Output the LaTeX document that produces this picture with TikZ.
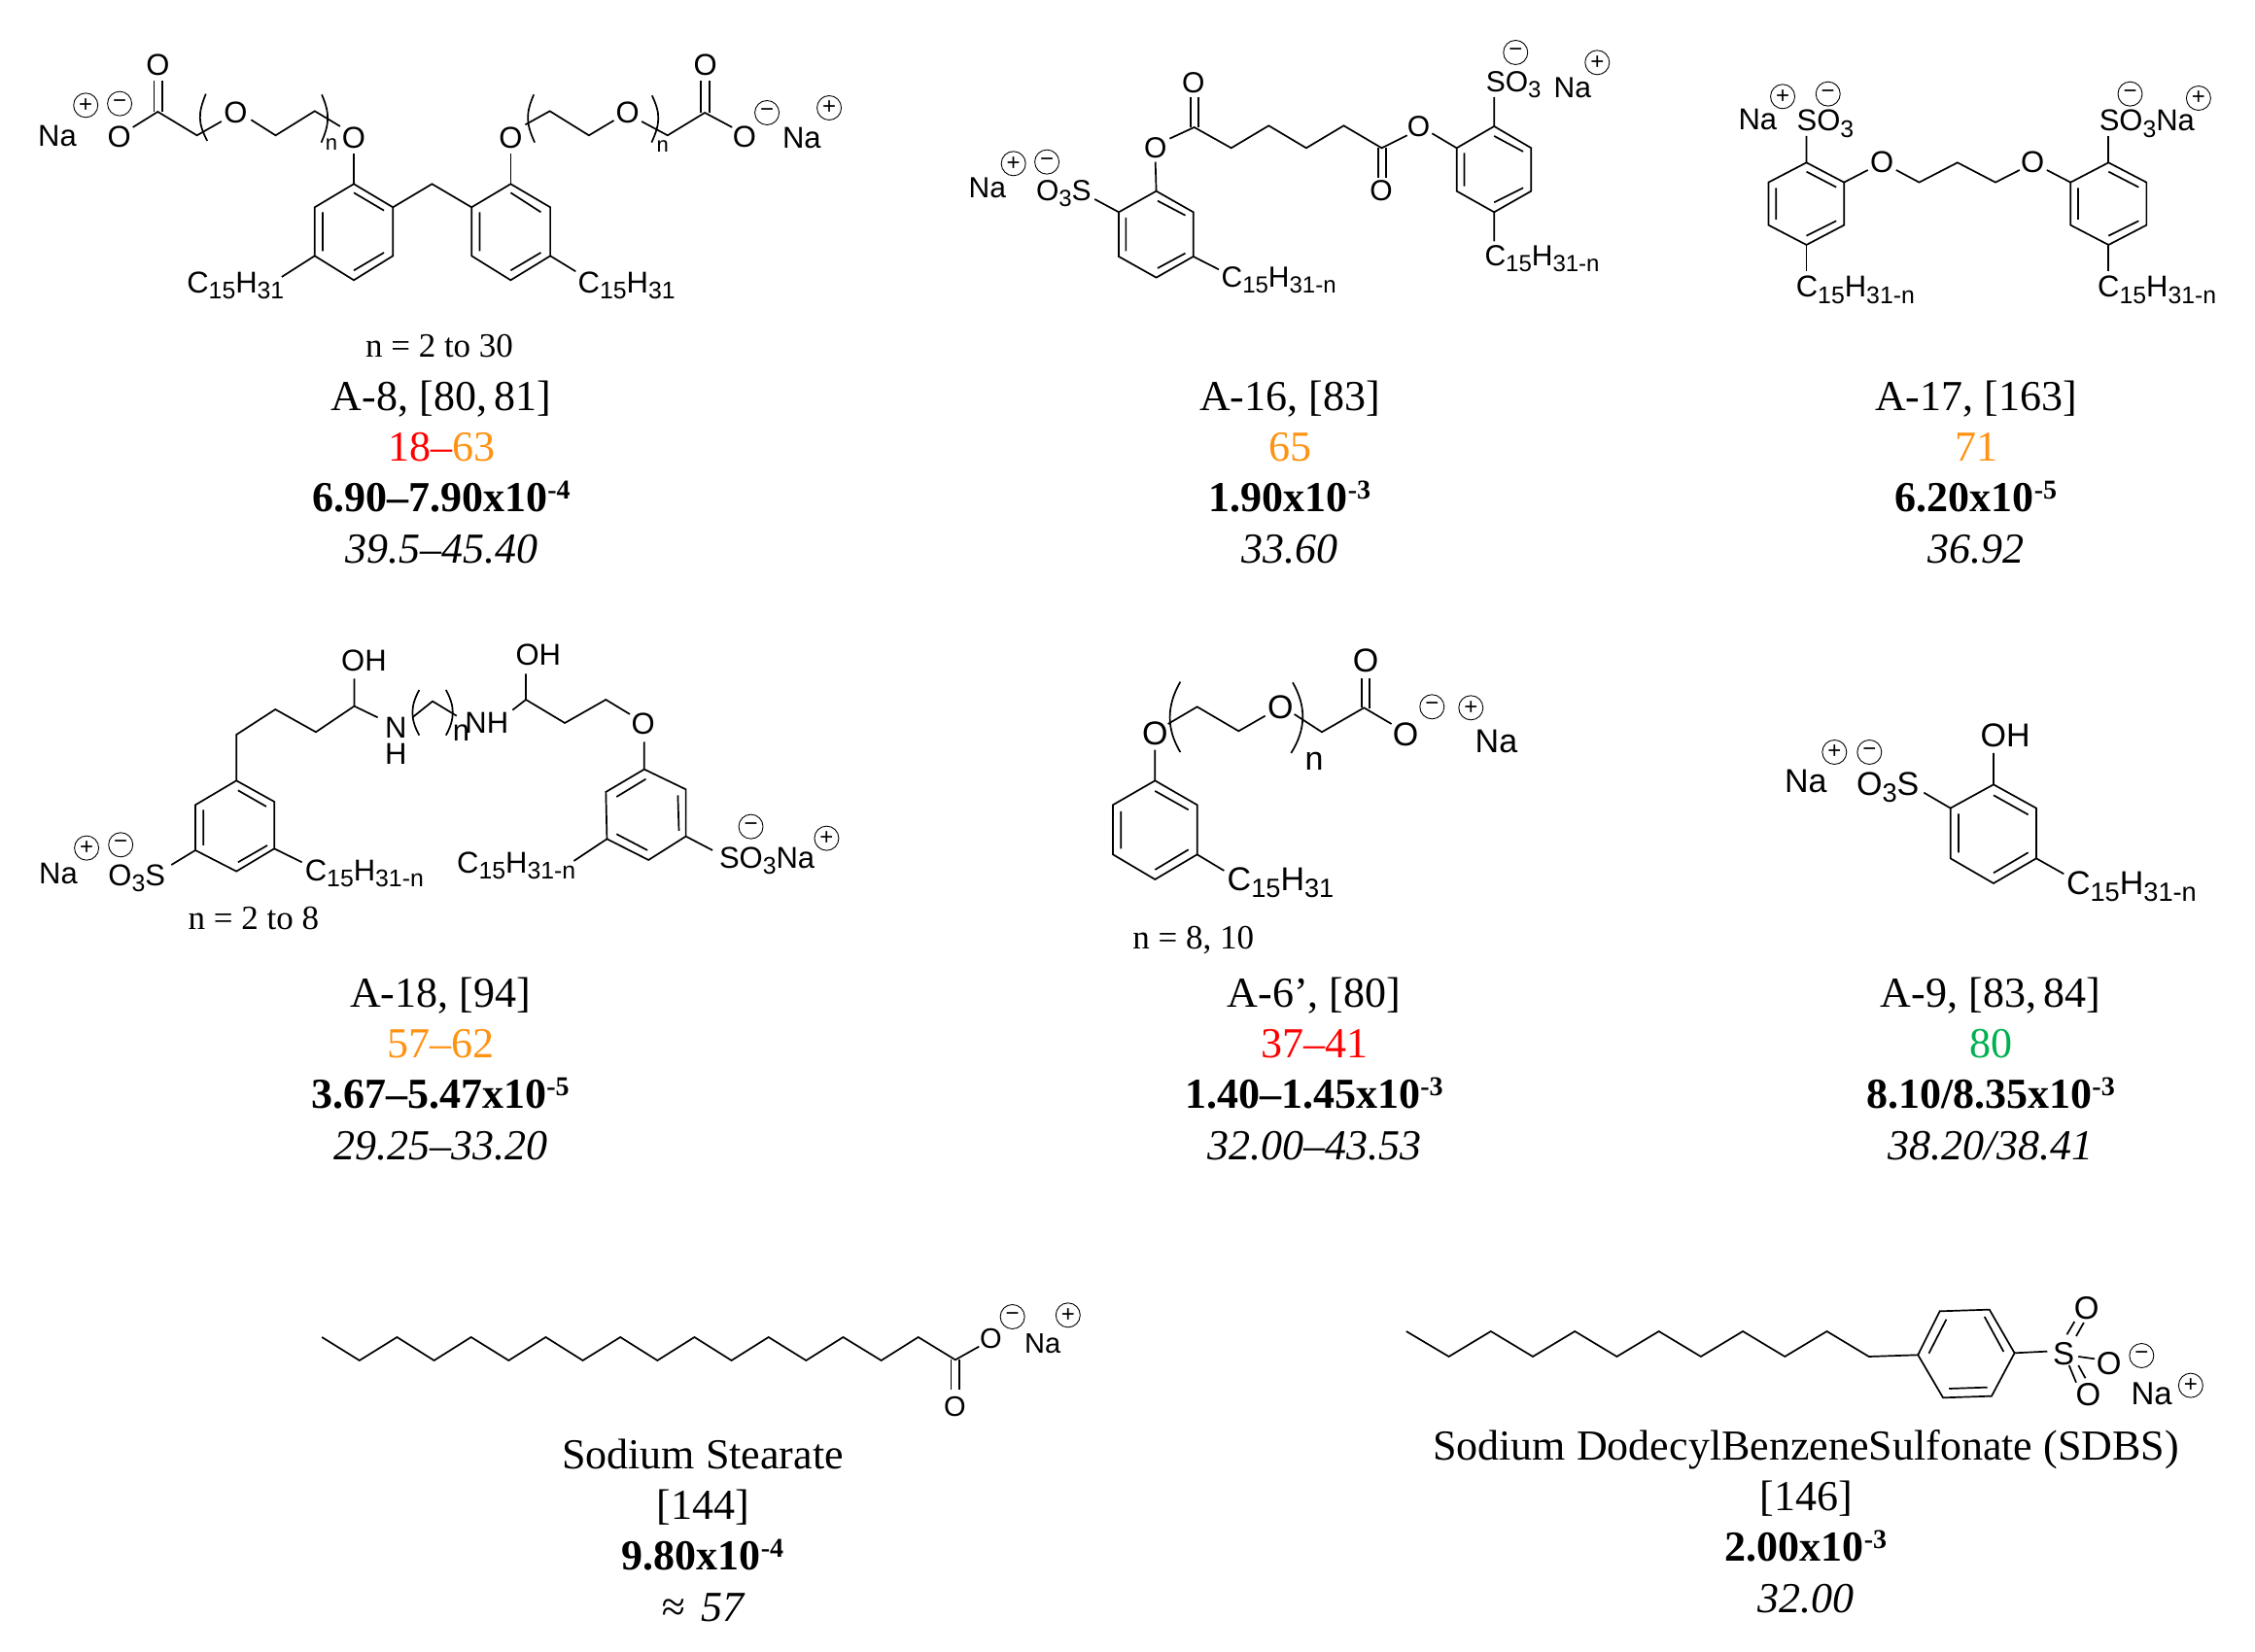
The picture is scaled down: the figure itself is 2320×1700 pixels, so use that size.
\documentclass[tikz,border=0pt]{standalone}
\usepackage{fontspec}
\setmainfont{Liberation Serif}
\setsansfont{Liberation Sans}
\definecolor{capred}{HTML}{FF0000}
\definecolor{caporange}{HTML}{FF9212}
\definecolor{capgreen}{HTML}{00B050}
\def\chsz{15}
\newcommand{\Zs}[1]{\raisebox{-.2em}{\scalebox{.8}{#1}}}
\newcommand{\Zexp}[1]{\raisebox{6.5pt}{\fontsize{14}{14}\selectfont #1}}
\tikzset{
  bond/.style={line width=.85pt,line join=miter,line cap=butt},
  chematom/.style={inner sep=0pt,font=\sffamily\fontsize{\chsz}{\chsz}\selectfont},
  chemlab/.style={chematom,anchor=base west},
  chgbase/.style={circle,draw,line width=.45pt,inner sep=0pt,minimum size=12.5pt,font=\sffamily\fontsize{12}{12}\selectfont},
  capt/.style={inner sep=0pt,anchor=base,font=\fontsize{22}{22}\selectfont},
  nnote/.style={inner sep=0pt,anchor=base west,font=\fontsize{17.5}{17.5}\selectfont},
}
\newcommand{\Zp}[3]{\node[chgbase] (#1) at (#2,#3) {+};}
\newcommand{\Zm}[3]{\node[chgbase] (#1) at (#2,#3) {−};}
\newcommand{\Zcapt}[7]{%
  \node[capt] (#1a) at (#2,#3) {#4};
  \node[capt] (#1b) at (#2,#3+52) {#5};
  \node[capt] (#1c) at (#2,#3+104) {\bfseries #6};
  \node[capt] (#1d) at (#2,#3+157) {\itshape #7};}
\begin{document}
\begin{tikzpicture}[x=.5pt,y=-.5pt]
\useasboundingbox (0,0) rectangle (2320,1700);
\fill[white] (0,0) rectangle (2320,1700);

% ---------- A-8
\def\chsz{15.5}
\begin{scope}[shift={(0,20)},xscale=.4847,yscale=.3333]
\draw[bond] (751,508)--(834,580)--(834,730)--(751,805)--(668,730)--(668,580)--cycle;
\draw[bond] (751,535)--(815,590) (685,595)--(685,715) (751,775)--(815,720);
\draw[bond] (751,415)--(751,508);
\draw[bond] (834,580)--(917,508)--(1001,580);
\draw[bond] (1084,508)--(1168,580)--(1168,730)--(1084,805)--(1001,730)--(1001,580)--cycle;
\draw[bond] (1084,535)--(1148,595) (1018,595)--(1018,715) (1084,775)--(1148,720);
\draw[bond] (1084,415)--(1084,508);
\draw[bond] (668,730)--(598,795) (1168,730)--(1222,778);
\draw[bond] (722,330)--(668,283)--(585,358)--(533,310) (470,315)--(418,358)--(335,285)--(282,333);
\draw[bond] (327,285)--(327,190) (345,285)--(345,190);
\draw[bond] (437,230) .. controls (420,290) and (420,320) .. (440,375);
\draw[bond] (683,232) .. controls (700,290) and (700,320) .. (682,380);
\draw[bond] (1115,325)--(1167,283)--(1250,358)--(1303,312) (1362,315)--(1417,358)--(1496,288)--(1554,333);
\draw[bond] (1488,288)--(1488,190) (1506,288)--(1506,190);
\draw[bond] (1133,232) .. controls (1116,290) and (1116,320) .. (1135,380);
\draw[bond] (1384,235) .. controls (1402,290) and (1402,320) .. (1383,380);
\node[chematom] (a8o1) at (335,140) {O};
\node[chematom] (a8o2) at (253,362) {O};
\node[chematom] (a8o3) at (500,288) {O};
\node[chematom] (a8o4) at (751,365) {O};
\node[chematom] (a8o5) at (1084,365) {O};
\node[chematom] (a8o6) at (1332,288) {O};
\node[chematom] (a8o7) at (1497,140) {O};
\node[chematom] (a8o8) at (1580,363) {O};
\node[chemlab] (a8na1) at (80,392) {Na};
\node[chemlab] (a8na2) at (1660,399) {Na};
\Zp{a8p1}{182}{265}\Zm{a8m1}{254}{260}\Zm{a8m2}{1628}{288}\Zp{a8p2}{1760}{273}
\node[chemlab] (a8c1) at (396,845) {C\Zs{15}H\Zs{31}};
\node[chemlab] (a8c2) at (1226,845) {C\Zs{15}H\Zs{31}};
\node[chemlab,font=\sffamily\fontsize{11}{11}\selectfont] (a8n1) at (690,405) {n};
\node[chemlab,font=\sffamily\fontsize{11}{11}\selectfont] (a8n2) at (1393,410) {n};
\end{scope}
\node[nnote,anchor=base] (a8note) at (452,368) {n = 2 to 30};
\Zcapt{a8}{454}{423}{A-8, [80,\,81]}{\textcolor{capred}{18–}\textcolor{caporange}{63}}{6.90–7.90x10\Zexp{-4}}{39.5–45.40}

% ---------- A-16
\def\chsz{15}
\begin{scope}[shift={(960,20)},xscale=.4592,yscale=.3333]
\draw[bond] (500,530)--(583,595)--(583,732)--(500,797)--(416,732)--(416,595)--cycle;
\draw[bond] (503,560)--(565,605) (432,612)--(432,715) (503,768)--(565,722);
\draw[bond] (498,440)--(500,530) (530,368)--(585,333)--(668,397)--(752,328)--(836,397)--(920,328)--(1005,397)--(1062,358);
\draw[bond] (577,333)--(577,240) (595,333)--(595,240);
\draw[bond] (997,397)--(997,490) (1015,397)--(1015,490);
\draw[bond] (1118,352)--(1173,397);
\draw[bond] (1173,397)--(1257,330)--(1340,397)--(1340,530)--(1257,595)--(1173,530)--cycle;
\draw[bond] (1190,412)--(1190,515) (1257,360)--(1322,408) (1257,565)--(1322,520);
\draw[bond] (1257,330)--(1257,240) (1257,595)--(1257,685) (583,732)--(640,772) (362,555)--(416,595);
\node[chematom] (a16o1) at (583,195) {O};
\node[chematom] (a16o2) at (498,398) {O};
\node[chematom] (a16o3) at (1004,530) {O};
\node[chematom] (a16o4) at (1088,330) {O};
\node[chemlab] (a16s) at (1238,225) {SO\Zs{3}};
\node[chemlab] (a16na2) at (1390,243) {Na};
\Zm{a16m2}{1305}{102}\Zp{a16p2}{1488}{133}
\node[chemlab] (a16c2) at (1235,762) {C\Zs{15}H\Zs{31-n}};
\node[chemlab] (a16c1) at (645,827) {C\Zs{15}H\Zs{31-n}};
\node[chemlab] (a16s1) at (230,560) {O\Zs{3}S};
\node[chemlab] (a16na1) at (79,552) {Na};
\Zp{a16p1}{180}{445}\Zm{a16m1}{255}{440}
\end{scope}
\Zcapt{a16}{1327}{423}{A-16, [83]}{\textcolor{caporange}{65}}{1.90x10\Zexp{-3}}{33.60}

% ---------- A-17
\def\chsz{15.5}
\begin{scope}[shift={(1720,50)},xscale=.3827,yscale=.3333]
\draw[bond] (362,352)--(463,413)--(463,545)--(362,606)--(260,545)--(260,413)--cycle;
\draw[bond] (362,380)--(442,428) (280,430)--(280,528) (362,578)--(442,532);
\draw[bond] (362,352)--(362,270) (463,413)--(527,375) (603,375)--(665,413)--(768,352)--(870,413)--(935,375) (1008,375)--(1072,413);
\draw[bond] (1072,413)--(1174,352)--(1276,413)--(1276,545)--(1174,606)--(1072,545)--cycle;
\draw[bond] (1092,430)--(1092,528) (1174,380)--(1255,428) (1174,578)--(1255,532);
\draw[bond] (1174,352)--(1174,270) (362,606)--(362,688) (1174,606)--(1174,688);
\node[chematom] (a17o1) at (565,352) {O};
\node[chematom] (a17o2) at (970,352) {O};
\node[chemlab] (a17s1) at (335,255) {SO\Zs{3}};
\node[chemlab] (a17na) at (178,250) {Na};
\node[chemlab] (a17s2) at (1148,255) {SO\Zs{3}Na};
\Zp{a17p1}{298}{148}\Zm{a17m1}{420}{140}\Zm{a17m2}{1232}{140}\Zp{a17p2}{1416}{153}
\node[chemlab] (a17c1) at (333,768) {C\Zs{15}H\Zs{31-n}};
\node[chemlab] (a17c2) at (1144,768) {C\Zs{15}H\Zs{31-n}};
\end{scope}
\Zcapt{a17}{2033}{423}{A-17, [163]}{\textcolor{caporange}{71}}{6.20x10\Zexp{-5}}{36.92}

% ---------- A-18
\def\chsz{15.5}
\begin{scope}[shift={(20,640)},xscale=.5485,yscale=.3333]
\draw[bond] (407,490)--(478,555)--(478,700)--(407,770)--(330,705)--(330,565)--cycle;
\draw[bond] (410,520)--(463,570) (345,580)--(345,690) (410,742)--(465,690);
\draw[bond] (407,490)--(407,348)--(480,270)--(556,340)--(628,260)--(672,295) (628,260)--(628,175);
\draw[bond] (737,295)--(775,245)--(820,290);
\draw[bond] (750,210) .. controls (733,260) and (733,300) .. (750,350);
\draw[bond] (800,210) .. controls (817,260) and (817,300) .. (800,350);
\draw[bond] (925,272)--(950,240)--(1023,312)--(1100,240)--(1145,285) (950,240)--(950,160) (1172,370)--(1172,455);
\draw[bond] (1172,455)--(1250,517)--(1250,662)--(1180,735)--(1102,670)--(1100,525)--cycle;
\draw[bond] (1235,535)--(1237,645) (1175,485)--(1120,540) (1120,655)--(1178,705);
\draw[bond] (1102,670)--(1040,738) (1250,662)--(1300,705) (478,700)--(530,742) (330,705)--(285,750);
\node[chemlab] (a18oh1) at (603,152) {OH};
\node[chemlab] (a18n1) at (685,358) {N};
\node[chemlab] (a18h1) at (685,440) {H};
\node[chemlab] (a18nh) at (835,345) {NH};
\node[chemlab] (a18n) at (812,368) {n};
\node[chemlab] (a18oh2) at (930,133) {OH};
\node[chematom] (a18o) at (1170,315) {O};
\node[chemlab] (a18c2) at (820,775) {C\Zs{15}H\Zs{31-n}};
\node[chemlab] (a18s2) at (1312,760) {SO\Zs{3}Na};
\Zm{a18m2}{1372}{632}\Zp{a18p2}{1514}{668}
\node[chemlab] (a18c1) at (535,800) {C\Zs{15}H\Zs{31-n}};
\node[chemlab] (a18s1) at (166,815) {O\Zs{3}S};
\node[chemlab] (a18na) at (36,810) {Na};
\Zp{a18p1}{126}{698}\Zm{a18m1}{190}{688}
\node[nnote] (a18note) at (316,950) {n = 2 to 8};
\end{scope}
\Zcapt{a18}{453}{1036}{A-18, [94]}{\textcolor{caporange}{57–62}}{3.67–5.47x10\Zexp{-5}}{29.25–33.20}

% ---------- A-6'
\def\chsz{17}
\begin{scope}[shift={(1120,640)},xscale=.3333,yscale=.3333]
\draw[bond] (205,490)--(335,565)--(335,718)--(205,795)--(75,718)--(75,565)--cycle;
\draw[bond] (205,522)--(308,580) (100,585)--(100,700) (205,765)--(308,703);
\draw[bond] (205,395)--(205,490) (245,315)--(335,262)--(463,337)--(545,290) (635,285)--(720,340)--(850,265)--(935,315);
\draw[bond] (842,265)--(842,175) (868,268)--(868,175);
\draw[bond] (283,185) .. controls (240,260) and (240,330) .. (283,402);
\draw[bond] (630,187) .. controls (672,260) and (672,330) .. (625,405);
\draw[bond] (335,718)--(418,768);
\node[chematom] (a6o1) at (205,345) {O};
\node[chematom] (a6o2) at (592,262) {O};
\node[chematom] (a6o3) at (978,348) {O};
\node[chematom] (a6o4) at (855,118) {O};
\node[chemlab] (a6n) at (667,458) {n};
\Zm{a6m}{1060}{262}\Zp{a6p}{1180}{265}
\node[chemlab] (a6na) at (1192,403) {Na};
\node[chemlab] (a6c) at (427,830) {C\Zs{15}H\Zs{31}};
\node[nnote] (a6note) at (135,1010) {n = 8, 10};
\end{scope}
\Zcapt{a6}{1352}{1036}{A-6’, [80]}{\textcolor{capred}{37–41}}{1.40–1.45x10\Zexp{-3}}{32.00–43.53}

% ---------- A-9
\def\chsz{17}
\begin{scope}[shift={(1820,720)},xscale=.3333,yscale=.3333]
\draw[bond] (693,262)--(825,335)--(825,490)--(693,567)--(560,490)--(560,335)--cycle;
\draw[bond] (693,295)--(800,355) (585,352)--(585,472) (693,535)--(800,472);
\draw[bond] (693,262)--(693,165) (478,287)--(560,335) (825,490)--(910,538);
\node[chemlab] (a9oh) at (652,147) {OH};
\node[chemlab] (a9s) at (269,297) {O\Zs{3}S};
\node[chemlab] (a9na) at (47,287) {Na};
\Zp{a9p}{202}{162}\Zm{a9m}{310}{162}
\node[chemlab] (a9c) at (917,603) {C\Zs{15}H\Zs{31-n}};
\end{scope}
\Zcapt{a9}{2048}{1036}{A-9, [83,\,84]}{\textcolor{capgreen}{80}}{8.10/8.35x10\Zexp{-3}}{38.20/38.41}

% ---------- Sodium stearate
\def\chsz{14.5}
\begin{scope}[shift={(310,1320)},xscale=.5294,yscale=.3333]
\draw[bond] (40,168)--(113,240)--(186,168)--(258,240)--(330,168)--(403,240)--(475,168)--(547,240)--(620,168)--(692,240)--(764,168)--(836,240)--(908,168)--(981,240)--(1053,168)--(1127,240)--(1199,168)--(1271,238)--(1317,197);
\draw[bond] (1263,238)--(1263,330) (1279,238)--(1279,330);
\node[chematom] (sso1) at (1340,172) {O};
\node[chematom] (sso2) at (1270,382) {O};
\Zm{ssm}{1382}{105}\Zp{ssp}{1490}{100}
\node[chemlab] (ssna) at (1405,218) {Na};
\end{scope}
\node[capt] (ssa) at (723,1511) {Sodium Stearate};
\node[capt] (ssb) at (723,1563) {[144]};
\node[capt] (ssc) at (723,1615) {\bfseries 9.80x10\Zexp{-4}};
\node[capt] (ssd) at (723,1668) {\itshape ≈\hspace{2.5pt} 57};

% ---------- SDBS
\def\chsz{16.5}
\begin{scope}[shift={(1430,1310)},xscale=.5612,yscale=.3333]
\draw[bond] (30,180)--(108,258)--(185,180)--(262,258)--(339,180)--(416,258)--(493,180)--(570,258)--(647,180)--(724,258)--(801,180)--(878,258)--(968,253);
\draw[bond] (968,253)--(1008,118)--(1099,113)--(1145,247)--(1103,380)--(1014,385)--cycle;
\draw[bond] (988,248)--(1020,143) (1090,135)--(1125,243) (1025,357)--(1095,353);
\draw[bond] (1145,247)--(1205,242);
\draw[bond] (1241,190)--(1255,150) (1258,195)--(1272,153);
\draw[bond] (1262,258)--(1292,265);
\draw[bond] (1245,285)--(1258,338) (1262,285)--(1275,325);
\node[chematom] (sdS) at (1235,250) {S};
\node[chematom] (sdo1) at (1277,108) {O};
\node[chematom] (sdo2) at (1318,280) {O};
\node[chematom] (sdo3) at (1280,375) {O};
\Zm{sdm}{1378}{255}\Zp{sdp}{1468}{347}
\node[chemlab] (sdna) at (1358,408) {Na};
\end{scope}
\node[capt] (sda) at (1858,1502) {Sodium DodecylBenzeneSulfonate (SDBS)};
\node[capt] (sdb) at (1858,1554) {[146]};
\node[capt] (sdc) at (1858,1606) {\bfseries 2.00x10\Zexp{-3}};
\node[capt] (sdd) at (1858,1659) {\itshape 32.00};
\end{tikzpicture}
\end{document}
